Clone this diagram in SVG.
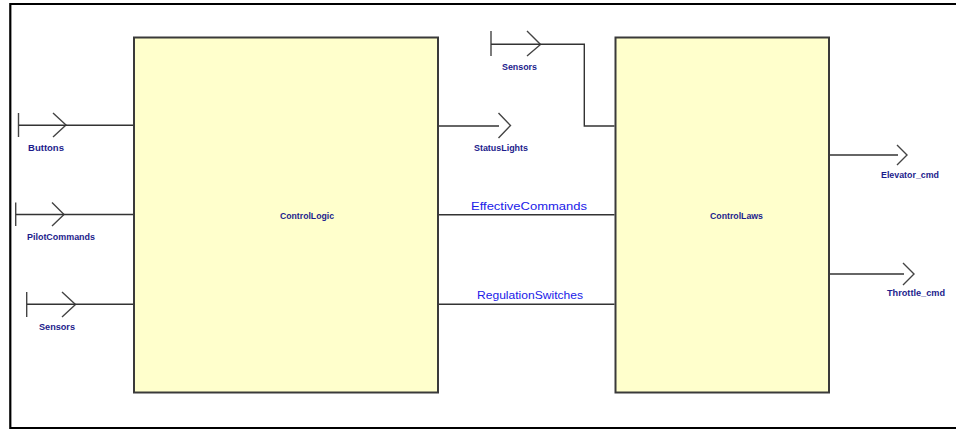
<svg xmlns="http://www.w3.org/2000/svg" width="956" height="429" viewBox="0 0 956 429">
<style>
.frame{stroke:#000;stroke-width:2.2;fill:none}
.box{fill:#FFFFCC;stroke:#3a3a3a;stroke-width:2}
.wire{stroke:#333;stroke-width:1.4;fill:none}
.port{stroke:#444;stroke-width:1.4;fill:none}
.plabel{font-family:"Liberation Sans",Arial,sans-serif;font-size:9px;font-weight:bold;fill:#1c1c8c}
.clabel{font-family:"Liberation Sans",Arial,sans-serif;font-size:11px;fill:#2020e8}
.blabel{font-family:"Liberation Sans",Arial,sans-serif;font-size:9px;font-weight:bold;fill:#1c1c8c}
</style>
<rect width="956" height="429" fill="#fff"/>
<g id="frame">
<polyline class="frame" points="958,4 10.3,4 10.3,428 958,428"/>
</g>
<g id="ControlLogic">
<rect class="box" x="134" y="37.5" width="304" height="355"/>
<text class="blabel" x="280" y="219" textLength="54" lengthAdjust="spacingAndGlyphs">ControlLogic</text>
</g>
<g id="ControlLaws">
<rect class="box" x="615.5" y="37.5" width="213.5" height="355"/>
<text class="blabel" x="710" y="219" textLength="53" lengthAdjust="spacingAndGlyphs">ControlLaws</text>
</g>
<g id="in_Buttons">
<line class="port" x1="18.5" y1="113" x2="18.5" y2="137"/>
<polyline class="port" points="53,113 66,125 53,137"/>
<text class="plabel" x="28" y="151" textLength="36" lengthAdjust="spacingAndGlyphs">Buttons</text>
</g>
<g id="in_PilotCommands">
<line class="port" x1="15.7" y1="202.5" x2="15.7" y2="226"/>
<polyline class="port" points="52,202.5 64,214.5 52,226"/>
<text class="plabel" x="27" y="240" textLength="68" lengthAdjust="spacingAndGlyphs">PilotCommands</text>
</g>
<g id="in_Sensors_left">
<line class="port" x1="26.7" y1="292" x2="26.7" y2="317"/>
<polyline class="port" points="62,292 75.5,304.5 62,317"/>
<text class="plabel" x="39" y="330" textLength="36" lengthAdjust="spacingAndGlyphs">Sensors</text>
</g>
<g id="in_Sensors_top">
<line class="port" x1="491" y1="31" x2="491" y2="56"/>
<polyline class="port" points="527,31 540.5,44.5 527,56"/>
<text class="plabel" x="502" y="70" textLength="35" lengthAdjust="spacingAndGlyphs">Sensors</text>
</g>
<g id="out_StatusLights">
<polyline class="port" points="498.5,113 510.5,125.5 498.5,138"/>
<text class="plabel" x="474" y="150.5" textLength="54" lengthAdjust="spacingAndGlyphs">StatusLights</text>
</g>
<g id="out_Elevator_cmd">
<polyline class="port" points="897,145 907,155 897,165"/>
<text class="plabel" x="881" y="178" textLength="58" lengthAdjust="spacingAndGlyphs">Elevator_cmd</text>
</g>
<g id="out_Throttle_cmd">
<polyline class="port" points="903,263 914,274 903,285"/>
<text class="plabel" x="887" y="295.5" textLength="58" lengthAdjust="spacingAndGlyphs">Throttle_cmd</text>
</g>
<g id="connectors">
<line class="wire" x1="19" y1="125.3" x2="133" y2="125.3"/>
<line class="wire" x1="16" y1="214.5" x2="133" y2="214.5"/>
<line class="wire" x1="27" y1="304.3" x2="133" y2="304.3"/>
<line class="wire" x1="439" y1="126" x2="499" y2="126"/>
<polyline class="wire" points="491,44.3 584.3,44.3 584.3,126 614.5,126"/>
<line class="wire" x1="439" y1="214.7" x2="614.5" y2="214.7"/>
<text class="clabel" x="471" y="210" textLength="116" lengthAdjust="spacingAndGlyphs">EffectiveCommands</text>
<line class="wire" x1="439" y1="304.3" x2="614.5" y2="304.3"/>
<text class="clabel" x="477" y="299" textLength="106" lengthAdjust="spacingAndGlyphs">RegulationSwitches</text>
<line class="wire" x1="830" y1="155" x2="898" y2="155"/>
<line class="wire" x1="830" y1="274" x2="904" y2="274"/>
</g>
</svg>
